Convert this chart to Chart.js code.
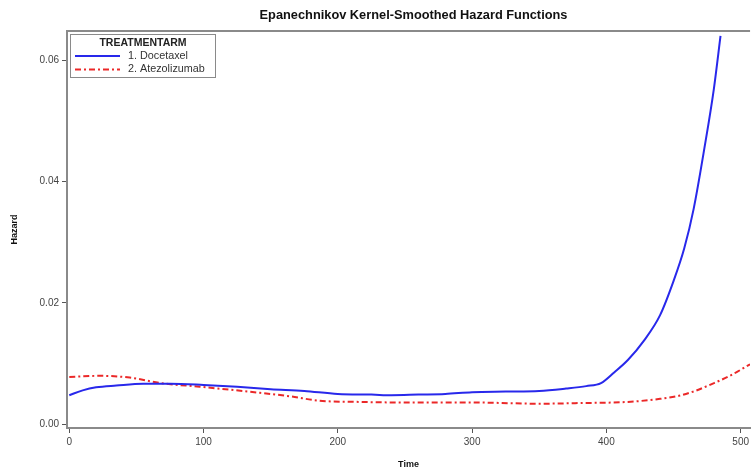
<!DOCTYPE html>
<html>
<head>
<meta charset="utf-8">
<script src="https://cdn.jsdelivr.net/npm/chart.js@4.4.1/dist/chart.umd.min.js"></script>
<style>
  html, body { margin: 0; padding: 0; background: #fff; }
  #wrap { width: 752px; height: 471px; position: relative; }
</style>
</head>
<body>
<div id="wrap"><canvas id="c" width="752" height="471"></canvas></div>
<script>
// Smoothed hazard estimates by treatment arm
const chartTitle = 'Epanechnikov Kernel-Smoothed Hazard Functions';
const legendTitle = 'TREATMENTARM';
const armNames = ['1. Docetaxel', '2. Atezolizumab'];

const docetaxelTime = [0, 10, 20, 35, 55, 75, 100, 125, 150, 175, 200, 225, 240, 260, 280, 300, 325, 350, 370, 385, 396, 406, 416, 428, 440, 450, 458, 465, 473, 480, 485];
const docetaxelHazard = [0.0048, 0.0056, 0.0061, 0.0064, 0.0067, 0.0067, 0.0065, 0.0062, 0.0058, 0.0055, 0.0050, 0.0049, 0.0048, 0.0049, 0.0050, 0.0053, 0.0054, 0.0055, 0.0059, 0.0063, 0.0068, 0.0086, 0.0106, 0.0138, 0.0180, 0.0236, 0.0290, 0.0355, 0.0455, 0.0552, 0.0640];

const atezoTime = [0, 23, 45, 68, 97, 120, 142, 165, 186, 216, 250, 300, 350, 379, 416, 440, 454, 466, 478, 492, 507];
const atezoHazard = [0.0078, 0.0080, 0.0077, 0.0068, 0.0062, 0.0057, 0.0052, 0.0046, 0.0039, 0.0037, 0.0036, 0.0036, 0.0034, 0.0035, 0.0037, 0.0042, 0.0047, 0.0055, 0.0066, 0.0080, 0.0099];

const xTicks = [0, 100, 200, 300, 400, 500];
const yTicks = [0.00, 0.02, 0.04, 0.06];

const toPoints = (xs, ys) => xs.map((x, i) => ({ x: x, y: ys[i] }));

const BLUE = 'rgb(40,40,235)';
const RED = 'rgb(235,40,40)';
const AXIS = '#8a8a8a';
const FONT = '"Liberation Sans", Arial, sans-serif';

// Title, frame top line and inset legend
const decorations = {
  id: 'decorations',
  afterDraw(chart) {
    const ctx = chart.ctx;
    const a = chart.chartArea;
    ctx.save();
    // top frame line
    ctx.strokeStyle = AXIS;
    ctx.lineWidth = 2;
    ctx.beginPath();
    ctx.moveTo(a.left - 1, a.top);
    ctx.lineTo(a.right, a.top);
    ctx.stroke();

    // title
    ctx.fillStyle = '#111';
    ctx.font = 'bold 12.8px ' + FONT;
    ctx.textAlign = 'center';
    ctx.textBaseline = 'middle';
    ctx.fillText(chartTitle, 413.5, 15);

    // legend box
    const bx = 70, by = 34, bw = 145, bh = 43;
    ctx.fillStyle = '#fff';
    ctx.fillRect(bx, by, bw, bh);
    ctx.strokeStyle = '#8a8a8a';
    ctx.lineWidth = 1;
    ctx.strokeRect(bx + 0.5, by + 0.5, bw, bh);
    ctx.fillStyle = '#222';
    ctx.font = 'bold 10.5px ' + FONT;
    ctx.fillText(legendTitle, 143, 43);

    chart.data.datasets.forEach((ds, i) => {
      const yy = 56 + i * 13.5;
      ctx.strokeStyle = ds.borderColor;
      ctx.lineWidth = ds.borderWidth;
      ctx.setLineDash(ds.borderDash || []);
      ctx.beginPath();
      ctx.moveTo(75, yy);
      ctx.lineTo(120, yy);
      ctx.stroke();
      ctx.setLineDash([]);
      ctx.fillStyle = '#333';
      ctx.font = '10.8px ' + FONT;
      ctx.textAlign = 'left';
      ctx.fillText(ds.label, 128, yy);
    });
    ctx.restore();
  }
};

new Chart(document.getElementById('c'), {
  type: 'line',
  data: {
    datasets: [
      {
        label: armNames[0],
        data: toPoints(docetaxelTime, docetaxelHazard),
        borderColor: BLUE,
        borderWidth: 2,
        pointRadius: 0,
        cubicInterpolationMode: 'monotone',
        fill: false
      },
      {
        label: armNames[1],
        data: toPoints(atezoTime, atezoHazard),
        borderColor: RED,
        borderWidth: 2,
        borderDash: [6, 3, 2, 3],
        pointRadius: 0,
        cubicInterpolationMode: 'monotone',
        fill: false
      }
    ]
  },
  options: {
    responsive: false,
    animation: false,
    devicePixelRatio: 1,
    layout: { padding: { top: 31, right: 0, left: 0, bottom: 0 } },
    plugins: {
      legend: { display: false },
      title: { display: false },
      tooltip: { enabled: false }
    },
    scales: {
      x: {
        type: 'linear',
        min: -1.7,
        max: 507,
        afterBuildTicks: s => { s.ticks = xTicks.map(v => ({ value: v })); },
        afterFit: s => { s.height = 43; },
        border: { color: AXIS, width: 2 },
        grid: { drawOnChartArea: false, drawTicks: true, tickLength: 5, color: '#555', lineWidth: 1 },
        ticks: { padding: 3, color: '#444', font: { family: FONT, size: 10 }, maxRotation: 0,
                 callback: v => String(v) },
        title: { display: true, text: 'Time', color: '#111',
                 font: { family: FONT, size: 9, weight: 'bold' }, padding: { top: 0, bottom: 1 } }
      },
      y: {
        type: 'linear',
        min: -0.0006,
        max: 0.0648,
        afterBuildTicks: s => { s.ticks = yTicks.map(v => ({ value: v })); },
        afterFit: s => { s.width = 67; },
        border: { color: AXIS, width: 2 },
        grid: { drawOnChartArea: false, drawTicks: true, tickLength: 5, color: '#555', lineWidth: 1 },
        ticks: { padding: 3, color: '#444', font: { family: FONT, size: 10 },
                 callback: v => Number(v).toFixed(2) },
        title: { display: true, text: 'Hazard', color: '#111',
                 font: { family: FONT, size: 9, weight: 'bold' }, padding: { top: 9, bottom: 0 } }
      }
    }
  },
  plugins: [decorations]
});
</script>
</body>
</html>
